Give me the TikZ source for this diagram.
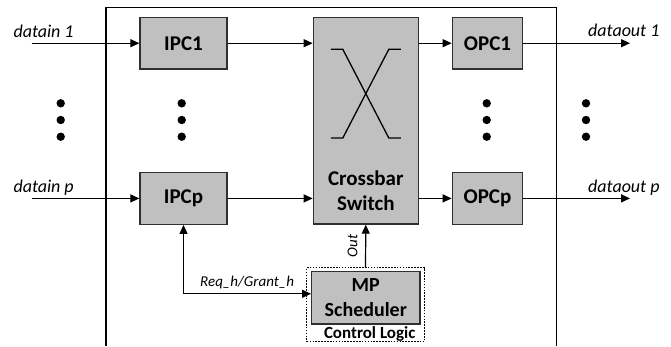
\documentclass[tikz,border=0pt]{standalone}
\usepackage{fontspec}
\setmainfont{Carlito}
\usetikzlibrary{arrows.meta,calc}
\definecolor{boxfill}{HTML}{C0C0C0}
\definecolor{boxline}{HTML}{303030}
\tikzset{
  blk/.style={draw=boxline, fill=boxfill, line width=1.3pt, inner sep=0pt,
    align=center, font=\bfseries\fontsize{21}{24}\selectfont},
  lbl/.style={inner sep=0pt, font=\itshape\fontsize{18}{20}\selectfont},
  slbl/.style={inner sep=0pt, font=\itshape\fontsize{15}{17}\selectfont},
  conn/.style={line width=1.2pt, -{Triangle[length=9pt,width=8pt]}},
  biconn/.style={line width=1.2pt, {Triangle[length=9pt,width=8pt]}-{Triangle[length=9pt,width=8pt]}},
  vdot/.style={fill=black, circle, inner sep=0pt, minimum size=8.4pt},
}
\begin{document}
\begin{tikzpicture}[x=1pt,y=-1pt]
\useasboundingbox (0,0) rectangle (671,346);

% enclosing frame, open at the bottom
\draw[line width=1.2pt] (106,346) -- (106,7.3) -- (556.7,7.3) -- (556.7,346);

% processing blocks
\node[blk, minimum width=87pt, minimum height=51.7pt] (ipc1) at (183.5,43.2) {IPC1};
\node[blk, minimum width=87pt, minimum height=51.7pt] (ipcp) at (183.5,198.4) {IPCp};
\node[blk, minimum width=105pt, minimum height=206.7pt] (xbar) at (365.8,120.7) {};
\node[inner sep=0pt, align=center, font=\bfseries\fontsize{21}{25}\selectfont] (xbarlbl) at (365.8,190.5) {Crossbar\\Switch};
\node[blk, minimum width=70.4pt, minimum height=51.7pt] (opc1) at (487.5,43.2) {OPC1};
\node[blk, minimum width=70.4pt, minimum height=51.7pt] (opcp) at (487.5,198.4) {OPCp};

% crossing symbol inside the switch
\draw[line width=1.3pt] ($(xbar.center)+(-35,-71.4)$) -- ($(xbar.center)+(-23,-71.4)$)
  -- ($(xbar.center)+(23,17.3)$) -- ($(xbar.center)+(35,17.3)$);
\draw[line width=1.3pt] ($(xbar.center)+(-35,17.3)$) -- ($(xbar.center)+(-23,17.3)$)
  -- ($(xbar.center)+(23,-71.4)$) -- ($(xbar.center)+(35,-71.4)$);

% control logic
\node[draw, line width=0.9pt, dash pattern=on 1.6pt off 1.3pt, minimum width=117.6pt,
  minimum height=74pt, inner sep=0pt] (ctrl) at (365.5,304.7) {};
\node[blk, minimum width=108.3pt, minimum height=52.3pt,
  font=\bfseries\fontsize{20}{25}\selectfont] (sched) at (365.8,297.8) {MP\\Scheduler};
\node[inner sep=0pt, font=\bfseries\fontsize{17}{19}\selectfont, anchor=base] (ctrllbl) at (369.7,338.5) {Control Logic};

% data inputs and outputs
\coordinate (in1) at (31.7,43.2);
\coordinate (inp) at (31.7,198.4);
\coordinate (out1) at (630,43.2);
\coordinate (outp) at (630,198.4);
\draw[conn] (in1) -- (ipc1.west);
\draw[conn] (inp) -- (ipcp.west);
\draw[conn] (ipc1.east) -- (ipc1.east -| xbar.west);
\draw[conn] (ipcp.east) -- (ipcp.east -| xbar.west);
\draw[conn] (opc1.west -| xbar.east) -- (opc1.west);
\draw[conn] (opcp.west -| xbar.east) -- (opcp.west);
\draw[conn] (opc1.east) -- (out1);
\draw[conn] (opcp.east) -- (outp);

\node[lbl, anchor=base west] (lin1) at (13.3,37.3) {datain 1};
\node[lbl, anchor=base west] (linp) at (13.3,192.7) {datain p};
\node[lbl, anchor=base west] (lout1) at (588,36.5) {dataout 1};
\node[lbl, anchor=base west] (loutp) at (588,192.7) {dataout p};

% scheduler connections
\draw[conn] (ctrl.north) -- (xbar.south);
\node[slbl, rotate=90] (lout) at (352.5,245.8) {Out};
\draw[biconn] (ipcp.south) |- ([yshift=4pt]sched.west);
\node[slbl, anchor=base west] (lreq) at (200,286) {Req\_h/Grant\_h};

% ellipsis dots
\foreach \x/\n in {60.7/a,181.7/b,486.7/c,586/d}{
  \node[vdot] (\n1) at (\x,103.3) {};
  \node[vdot] (\n2) at (\x,120) {};
  \node[vdot] (\n3) at (\x,136.7) {};
}
\end{tikzpicture}
\end{document}
